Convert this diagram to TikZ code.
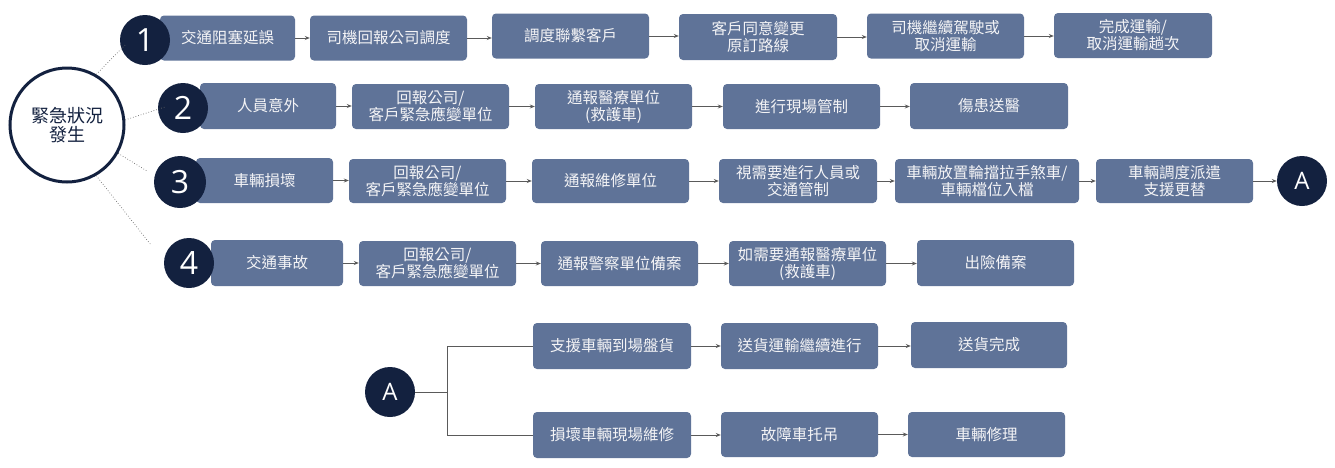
\documentclass[tikz,border=0pt]{standalone}
\usepackage{fontspec}
\setmainfont{Noto Sans CJK TC}
\newfontfamily\numfont{Open Sans}
\usetikzlibrary{arrows.meta}
\definecolor{boxblue}{HTML}{5F7398}
\definecolor{navy}{HTML}{13213F}
\definecolor{txtw}{HTML}{F4F4F6}
\definecolor{arr}{HTML}{5A5A5A}
\definecolor{dotc}{HTML}{6A6A6A}
\begin{document}
\begin{tikzpicture}[x=1pt,y=-1pt,
  box/.style={rectangle, rounded corners=4pt, fill=boxblue, text=txtw, inner sep=0pt,
    align=center, font=\fontsize{15.5}{17}\selectfont, minimum height=45pt},
  numc/.style={circle, fill=navy, text=white, inner sep=0pt, minimum size=50pt,
    font=\numfont\fontsize{32}{32}\selectfont},
  letc/.style={circle, fill=navy, text=white, inner sep=0pt, minimum size=50pt,
    font=\numfont\fontsize{24}{24}\selectfont},
  flow/.style={draw=arr, line width=0.8pt, -{Stealth[length=5pt,width=4pt]}},
  link/.style={draw=arr, line width=0.9pt},
  dots/.style={draw=dotc, line width=0.7pt, dotted}]
\useasboundingbox (0,0) rectangle (1335,467);

% central circle
\node[circle, draw=navy, line width=3pt, fill=white, minimum size=114pt, inner sep=0pt,
  text=navy, align=center, font=\fontsize{18}{19}\selectfont] (C) at (67,125) {緊急狀況\\發生};

% row 1
\node[box, minimum width=135pt] (b11) at (227.5,38) {交通阻塞延誤};
\node[numc] (n1) at (145,40) {1};
\node[box, minimum width=157pt] (b12) at (388.5,38) {司機回報公司調度};
\node[box, minimum width=157pt] (b13) at (570.5,36) {調度聯繫客戶};
\node[box, minimum width=158pt, minimum height=46pt] (b14) at (758,37) {客戶同意變更\\原訂路線};
\node[box, minimum width=157pt] (b15) at (945.5,36) {司機繼續駕駛或\\取消運輸};
\node[box, minimum width=158pt] (b16) at (1133,35.5) {完成運輸/\\取消運輸趟次};

% row 2
\node[box, minimum width=136pt, minimum height=46pt] (b21) at (268,106) {人員意外};
\node[numc] (n2) at (183,108) {2};
\node[box, minimum width=157pt] (b22) at (430.5,106.5) {回報公司/\\客戶緊急應變單位};
\node[box, minimum width=157pt] (b23) at (613.5,106.5) {通報醫療單位\\(救護車)};
\node[box, minimum width=157pt] (b24) at (801.5,106.5) {進行現場管制};
\node[box, minimum width=158pt, minimum height=46pt] (b25) at (989,106) {傷患送醫};

% row 3
\node[box, minimum width=137pt] (b31) at (264.5,180.5) {車輛損壞};
\node[numc, minimum size=52pt] (n3) at (180,182) {3};
\node[box, minimum width=157pt, minimum height=44pt] (b32) at (427.5,181) {回報公司/\\客戶緊急應變單位};
\node[box, minimum width=157pt, minimum height=44pt] (b33) at (610.5,181) {通報維修單位};
\node[box, minimum width=158pt, minimum height=44pt] (b34) at (798,181) {視需要進行人員或\\交通管制};
\node[box, minimum width=184pt, minimum height=44pt] (b35) at (987,181) {車輛放置輪擋拉手煞車/\\車輛檔位入檔};
\node[box, minimum width=157pt, minimum height=44pt] (b36) at (1174.5,181) {車輛調度派遣\\支援更替};
\node[letc] (A1) at (1302,181) {A};

% row 4
\node[box, minimum width=132pt, minimum height=46pt] (b41) at (277,263) {交通事故};
\node[numc] (n4) at (189,263) {4};
\node[box, minimum width=157pt] (b42) at (437.5,263.5) {回報公司/\\客戶緊急應變單位};
\node[box, minimum width=157pt] (b43) at (619.5,263.5) {通報警察單位備案};
\node[box, minimum width=157pt] (b44) at (807.5,263.5) {如需要通報醫療單位\\(救護車)};
\node[box, minimum width=157pt, minimum height=46pt] (b45) at (995.5,263) {出險備案};

% bottom
\node[letc] (A2) at (390,392) {A};
\node[box, minimum width=158pt, minimum height=46pt] (b51) at (612,346) {支援車輛到場盤貨};
\node[box, minimum width=157pt, minimum height=46pt] (b52) at (799.5,346) {送貨運輸繼續進行};
\node[box, minimum width=156pt, minimum height=46pt] (b53) at (989,345) {送貨完成};
\node[box, minimum width=158pt, minimum height=46pt] (b61) at (612,435) {損壞車輛現場維修};
\node[box, minimum width=157pt] (b62) at (799.5,434.5) {故障車托吊};
\node[box, minimum width=157pt] (b63) at (986.5,434.5) {車輛修理};
\coordinate (j) at (447,392);

% dotted links
\coordinate (e1) at (125,45);
\coordinate (e2) at (165,107);
\coordinate (e3) at (147,171);
\coordinate (e4) at (151,245);
\draw[dots] (C.60) -- (e1);
\draw[dots] (C.5) -- (e2);
\draw[dots] (C.331) -- (e3);
\draw[dots] (C.300) -- (e4);

% flow arrows
\foreach \a/\b in {b11/b12,b12/b13,b13/b14,b14/b15,b15/b16,
                   b21/b22,b22/b23,b23/b24,b24/b25,
                   b31/b32,b32/b33,b33/b34,b34/b35,b35/b36,b36/A1,
                   b41/b42,b42/b43,b43/b44,b44/b45,
                   b51/b52,b52/b53,b61/b62,b62/b63}
  \draw[flow] (\a.east) -- (\a.east -| \b.west);

% branch from A
\draw[link] (A2.east) -- (j) |- (b51.west);
\draw[link] (j) |- (b61.west);
\end{tikzpicture}
\end{document}
